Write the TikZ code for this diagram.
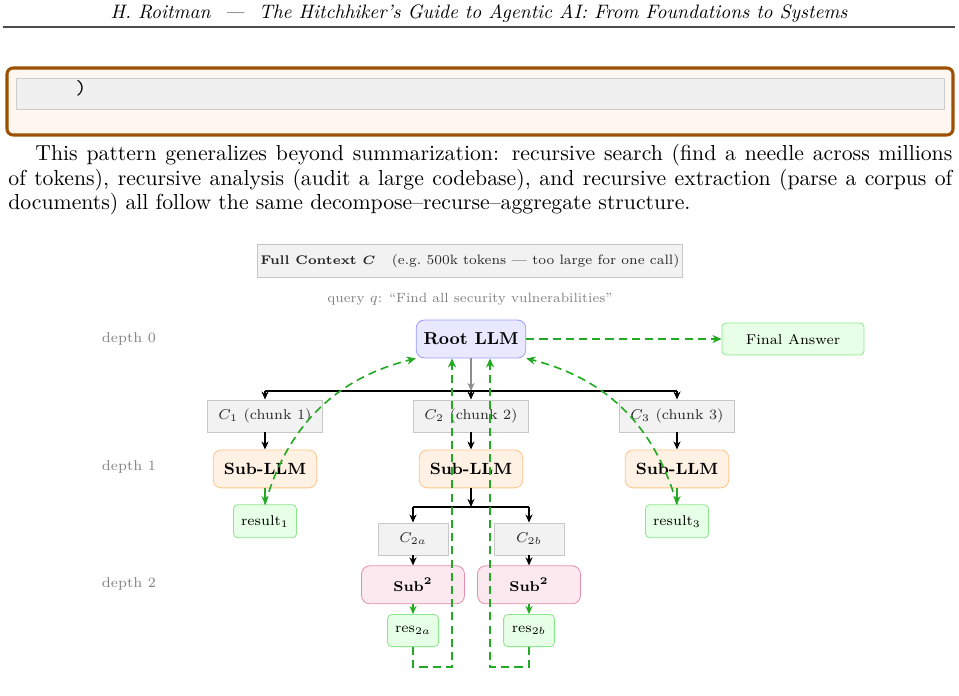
\documentclass[tikz,border=0pt]{standalone}
\usepackage{amsmath,amssymb}
\usepackage{tikz}
\usetikzlibrary{positioning,calc,arrows.meta}
\definecolor{framebrown}{HTML}{9C5000}
\definecolor{codebg}{HTML}{FFF7EF}
\definecolor{flowgreen}{HTML}{22AA22}
\definecolor{rootfill}{HTML}{E8E8FF}
\definecolor{rootline}{HTML}{9C9CFF}
\definecolor{subfill}{HTML}{FFF1E3}
\definecolor{subline}{HTML}{FFC58A}
\definecolor{sqfill}{HTML}{FBE9EF}
\definecolor{sqline}{HTML}{E48FAA}
\definecolor{okfill}{HTML}{E6FFE6}
\definecolor{okline}{HTML}{8CE88C}
\tikzset{
ctxbox/.style={draw=black!22,fill=black!5,font=\scriptsize,text=black!85,inner sep=0pt},
chunkbox/.style={ctxbox,minimum width=57pt,minimum height=15.8pt},
rootbox/.style={draw=rootline,fill=rootfill,rounded corners=4pt,minimum width=54pt,minimum height=18.7pt,font=\fontsize{8.5}{10}\selectfont\bfseries},
subbox/.style={draw=subline,fill=subfill,rounded corners=4pt,minimum width=51pt,minimum height=18.7pt,font=\footnotesize\bfseries},
sqbox/.style={draw=sqline,fill=sqfill,rounded corners=4pt,minimum width=50.7pt,minimum height=18.7pt,font=\scriptsize\bfseries},
resbox/.style={draw=okline,fill=okfill,rounded corners=2pt,minimum width=31pt,minimum height=16.3pt,inner sep=0pt,font=\scriptsize},
finalbox/.style={resbox,minimum width=70pt,minimum height=15.8pt},
depthlabel/.style={font=\scriptsize,text=black!50},
tree/.style={semithick,black},
treearrow/.style={tree,-{Stealth[length=4pt,width=3.5pt]}},
downarrow/.style={thick,black!45,-{Stealth[length=4pt,width=3.5pt]}},
okarrow/.style={thick,flowgreen,-{Stealth[length=4pt,width=3.5pt]}},
retflow/.style={thick,flowgreen,dash pattern=on 4pt off 2.5pt,-{Stealth[length=4.5pt,width=4pt]}}
}

\begin{document}
\begin{tikzpicture}[x=0.4926pt,y=-0.4926pt]
\useasboundingbox (0,0) rectangle (959,695);
% page header
\node[anchor=base,font=\fontsize{9.6}{11}\selectfont] (hdr) at (479,18) {\itshape H. Roitman\hspace{7pt}---\hspace{7pt}The Hitchhiker's Guide to Agentic AI: From Foundations to Systems};
\draw[line width=0.7pt,black!70] (3,27) -- (955,27);
% end of the listing box
\draw[framebrown,fill=codebg,line width=1.5pt,rounded corners=3pt] (7,68) rectangle (953,135);
\draw[draw=black!20,fill=black!6] (16,78) rectangle (944,109);
\node (paren) at (81,88) {\ttfamily )};
% paragraph
\node[anchor=north west,text width=465pt,align=justify,inner sep=0pt,font=\fontsize{10.7}{12.1}\selectfont] (para) at (8,144) {\hspace*{13.3pt}This pattern generalizes beyond summarization: recursive search (find a needle across millions\linebreak of tokens), recursive analysis (audit a large codebase), and recursive extraction (parse a corpus of\linebreak documents) all follow the same decompose--recurse--aggregate structure.};

% the recursion tree
\node[ctxbox,minimum width=209pt,minimum height=16.3pt,font=\fontsize{6.7}{8}\selectfont] (full) at (470,261) {{\fontsize{6.2}{7}\selectfont\textbf{Full Context $\boldsymbol{C}$}}\hspace{8pt}(e.g.\ 500k tokens --- too large for one call)};
\node[font=\fontsize{6.6}{8}\selectfont,text=black!50] (query) at (470,299) {query $q$: ``Find all security vulnerabilities''};

\node[depthlabel] (d0) at (129,339) {depth 0};
\node[depthlabel] (d1) at (129,467) {depth 1};
\node[depthlabel] (d2) at (129,584) {depth 2};

\node[rootbox] (root) at (471,339) {Root LLM};
\node[finalbox] (final) at (793,339) {Final Answer};

\node[chunkbox] (c1) at (265,416) {$C_1$\ (chunk 1)};
\node[chunkbox] (c2) at (471,416) {$C_2$\ (chunk 2)};
\node[chunkbox] (c3) at (677,416) {$C_3$\ (chunk 3)};
\foreach \i in {1,2,3}{
  \node[subbox,below=8.4pt of c\i] (sub\i) {Sub-LLM};
}
\node[resbox,below=7.9pt of sub1] (res1) {result$_1$};
\node[resbox,below=7.9pt of sub3] (res3) {result$_3$};

\node[chunkbox,minimum width=34.5pt] (c2a) at (413,539) {$C_{2a}$};
\node[chunkbox,minimum width=34.5pt] (c2b) at (529,539) {$C_{2b}$};
\node[sqbox,below=4.9pt of c2a] (sq2a) {Sub$^{\boldsymbol{2}}$};
\node[sqbox,below=4.9pt of c2b] (sq2b) {Sub$^{\boldsymbol{2}}$};
\node[resbox,minimum width=25pt,minimum height=15.8pt,below=4.9pt of sq2a] (res2a) {res$_{2a}$};
\node[resbox,minimum width=25pt,minimum height=15.8pt,below=4.9pt of sq2b] (res2b) {res$_{2b}$};

% split into chunks
\coordinate (fork0) at (471,391);
\coordinate (fork1) at (471,507);
\draw[downarrow] (root) -- (fork0);
\draw[tree] (fork0 -| c1) -- (fork0 -| c3);
\foreach \c in {c1,c2,c3} \draw[treearrow] (fork0 -| \c) -- (\c);
\foreach \i in {1,2,3} \draw[treearrow] (c\i) -- (sub\i);
\draw[treearrow] (sub2) -- (fork1);
\draw[tree] (fork1 -| c2a) -- (fork1 -| c2b);
\foreach \c in {c2a,c2b} \draw[treearrow] (fork1 -| \c) -- (\c);
\draw[treearrow] (c2a) -- (sq2a);
\draw[treearrow] (c2b) -- (sq2b);

% results flow back up
\draw[okarrow] (sub1) -- (res1);
\draw[okarrow] (sub3) -- (res3);
\draw[okarrow] (sq2a) -- (res2a);
\draw[okarrow] (sq2b) -- (res2b);
\draw[retflow] (root) -- (final);
\draw[retflow] (res1.north) to[bend left=30] (root.south west);
\draw[retflow] (res3.north) to[bend right=30] (root.south east);
\draw[retflow] (res2a.south) -- ++(0,20) -| ($(root.south)+(-19,0)$);
\draw[retflow] (res2b.south) -- ++(0,20) -| ($(root.south)+(19,0)$);
\end{tikzpicture}
\end{document}
